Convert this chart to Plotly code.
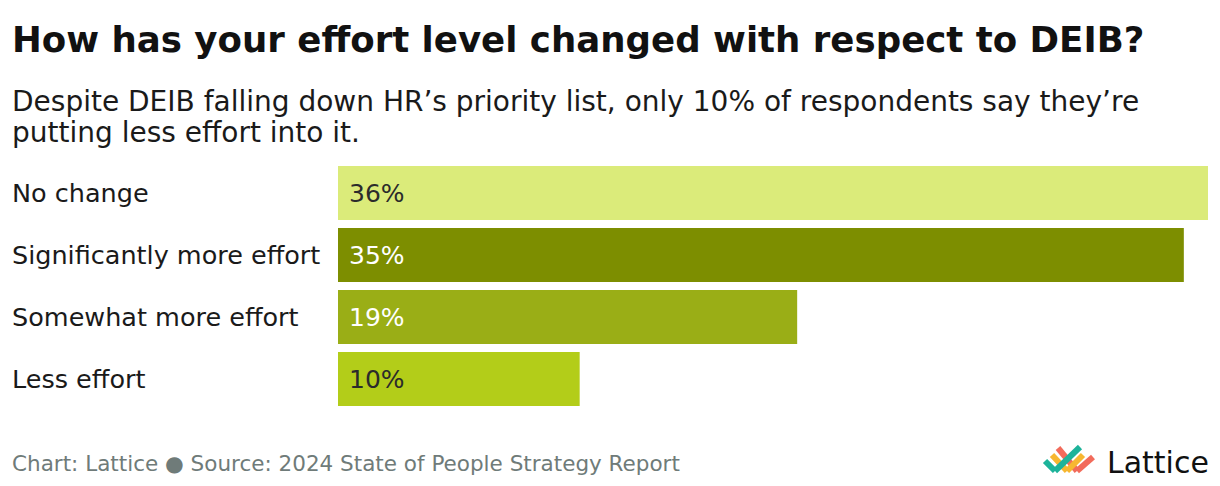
import plotly.graph_objects as go

categories = ["No change", "Significantly more effort", "Somewhat more effort", "Less effort"]
values = [36, 35, 19, 10]
bar_colors = ["#DBEB7A", "#7D8E00", "#9AAE16", "#B3CD19"]
text_colors = ["#2b2b2b", "#ffffff", "#ffffff", "#2b2b2b"]
labels = [f"{v}%" for v in values]

title = "How has your effort level changed with respect to DEIB?"
subtitle_lines = ["Despite DEIB falling down HR’s priority list, only 10% of respondents say they’re",
                  "putting less effort into it."]
footer = "Chart: Lattice ● Source: 2024 State of People Strategy Report"

OFF = 8  # page body offset
W, H = 1220 - OFF, 486 - OFF
ML, MR, MT, MB = 330, 12, 154, 76
PW, PH = W - ML - MR, H - MT - MB
FONT = "DejaVu Sans"

def px(x):
    return (x - OFF - ML) / PW

def py(y):
    return (H - MB - (y - OFF)) / PH

fig = go.Figure(go.Bar(
    x=values, y=categories, orientation="h",
    marker=dict(color=bar_colors, line=dict(width=0)),
    cliponaxis=False, hoverinfo="skip",
))

annotations = [
    dict(text=f"<b>{title}</b>", x=px(10), y=py(39), xref="paper", yref="paper",
         xanchor="left", yanchor="middle", showarrow=False,
         font=dict(family=FONT, size=35.6, color="#111111")),
    dict(text=subtitle_lines[0], x=px(10), y=py(101), xref="paper", yref="paper",
         xanchor="left", yanchor="middle", showarrow=False,
         font=dict(family=FONT, size=28, color="#1a1a1a")),
    dict(text=subtitle_lines[1], x=px(10), y=py(132), xref="paper", yref="paper",
         xanchor="left", yanchor="middle", showarrow=False,
         font=dict(family=FONT, size=28, color="#1a1a1a")),
    dict(text=footer, x=px(10), y=py(463), xref="paper", yref="paper",
         xanchor="left", yanchor="middle", showarrow=False,
         font=dict(family=FONT, size=21.5, color="#6f7b79")),
    dict(text="Lattice", x=px(1211), y=py(462), xref="paper", yref="paper",
         xanchor="right", yanchor="middle", showarrow=False,
         font=dict(family=FONT, size=30, color="#111111")),
]
for c in categories:
    annotations.append(dict(text=c, x=px(10), y=c, xref="paper", yref="y",
                            xanchor="left", yanchor="middle", showarrow=False,
                            font=dict(family=FONT, size=25.5, color="#1a1a1a")))
for c, lab, tc in zip(categories, labels, text_colors):
    annotations.append(dict(text=lab, x=0, y=c, xref="x", yref="y", xshift=9,
                            xanchor="left", yanchor="middle", showarrow=False,
                            font=dict(family=FONT, size=25, color=tc)))

# approximate Lattice logo mark
logo_strokes = [
    ((1058, 448), (1077, 471), "#F26B5B"),
    ((1077, 471), (1093, 457), "#F26B5B"),
    ((1052, 455), (1067, 471), "#F7B731"),
    ((1067, 471), (1083, 455), "#F7B731"),
    ((1045, 461), (1055, 471), "#1DB39A"),
    ((1055, 471), (1080, 447), "#1DB39A"),
]
shapes = []
for (x0, y0), (x1, y1), col in logo_strokes:
    shapes.append(dict(type="line", xref="paper", yref="paper",
                       x0=px(x0), y0=py(y0), x1=px(x1), y1=py(y1),
                       line=dict(color=col, width=6)))

fig.update_layout(
    width=W, height=H,
    margin=dict(l=ML, r=MR, t=MT, b=MB),
    paper_bgcolor="white", plot_bgcolor="white",
    showlegend=False, bargap=0.13,
    xaxis=dict(range=[0, 36], visible=False, fixedrange=True),
    yaxis=dict(autorange="reversed", showticklabels=False, showgrid=False,
               zeroline=False, fixedrange=True),
    annotations=annotations, shapes=shapes,
)

fig.write_html("out.html", config={"displayModeBar": False})
